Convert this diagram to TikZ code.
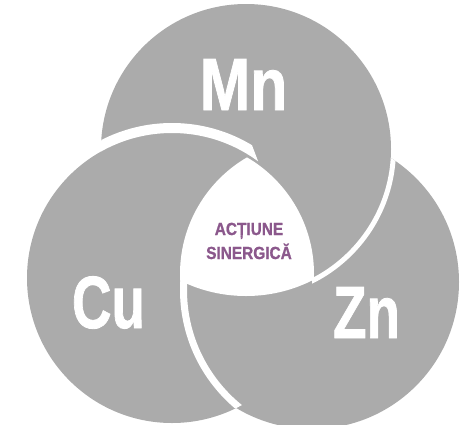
\documentclass[tikz,border=0pt]{standalone}
\usepackage{fontspec}
\setmainfont{Liberation Sans}
\newfontfamily\heavyfont[FakeBold=1.2]{Liberation Sans Bold}
\definecolor{circgray}{RGB}{171,171,171}
\definecolor{synpurple}{RGB}{139,88,140}
\begin{document}
\begin{tikzpicture}[x=1pt,y=-1pt,
  band/.style={draw=white,line width=#1},
  elem/.style={text=white,inner sep=0pt,anchor=base,
    font=\heavyfont\fontsize{74}{74}\selectfont},
  syn/.style={text=synpurple,inner sep=0pt,anchor=base,
    font=\heavyfont\fontsize{17.5}{17.5}\selectfont}]
\useasboundingbox (0,0) rectangle (474,424);
\clip (0,0) rectangle (474,424);
% circle centres
\coordinate (mn) at (246,149);
\coordinate (cu) at (172,278);
\coordinate (zn) at (312,282);
% centres of the arcs that bound the white centre and the Zn/Cu gap
\coordinate (tl) at (315,274);
\coordinate (tr) at (179,274);
\coordinate (tb) at (246,148);
\coordinate (zc) at (335,290);
% gray disks
\fill[circgray] (mn) circle[radius=145];
\fill[circgray] (cu) circle[radius=145];
\fill[circgray] (zn) circle[radius=147];
% gap: Cu over Mn
\begin{scope}
  \clip (mn) circle[radius=145];
  \clip (0,0) -- (250,0) -- (250,140) -- (258,161) -- (258,424) -- (0,424) -- cycle;
  \path[band=10pt] (cu) circle[radius=150];
\end{scope}
% gap: Mn over Zn
\begin{scope}
  \clip (zn) circle[radius=147];
  \clip (312,0) rectangle (474,424);
  \path[band=5pt] (mn) circle[radius=147.5];
\end{scope}
% gap: Zn over Cu
\begin{scope}
  \clip (cu) circle[radius=145];
  \clip (0,250) rectangle (474,424);
  \path[band=7pt] (zc) circle[radius=151.5];
\end{scope}
% white centre
\begin{scope}
  \clip (tl) circle[radius=135];
  \clip (tr) circle[radius=135];
  \fill[white] (tb) circle[radius=148];
\end{scope}
% labels
\node[elem] (lmn) at (243.5,110) {\scalebox{0.82}[1]{Mn}};
\node[elem] (lcu) at (108.5,328) {\scalebox{0.74}[1]{Cu}};
\node[elem] (lzn) at (366.5,338) {\scalebox{0.74}[1]{Zn}};
\node[syn] (s1) at (249,235) {\scalebox{0.88}[1]{ACȚIUNE}};
\node[syn] (s2) at (249,259) {\scalebox{0.88}[1]{SINERGICĂ}};
\end{tikzpicture}
\end{document}
